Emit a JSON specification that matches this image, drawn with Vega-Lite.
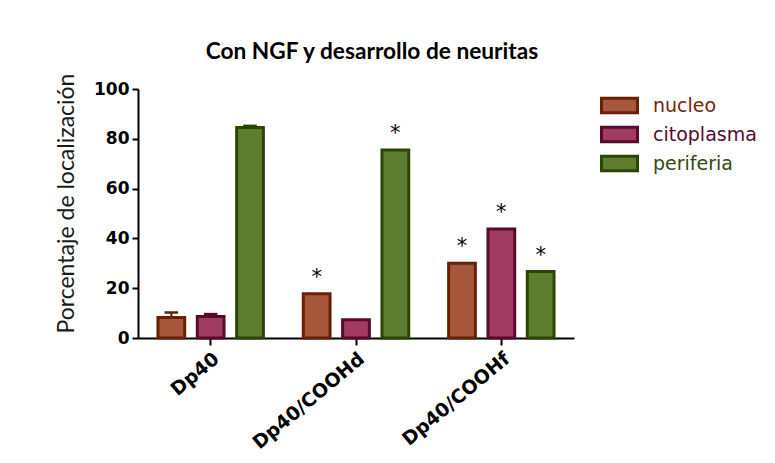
{
  "$schema": "https://vega.github.io/schema/vega-lite/v6.json",
  "width": 436,
  "height": 249,
  "autosize": {"type": "none"},
  "padding": {"left": 138, "top": 89, "right": 201, "bottom": 125},
  "background": "white",
  "title": {
    "text": "Con NGF y desarrollo de neuritas",
    "font": "Lato",
    "fontWeight": "bold",
    "fontSize": 22.7,
    "color": "#000000",
    "anchor": "middle",
    "baseline": "alphabetic",
    "dx": 16,
    "dy": 7,
    "offset": -2
  },
  "data": {
    "values": [
      {"grupo": "Dp40", "loc": "nucleo", "valor": 8.2, "sup": 10.2, "sig": ""},
      {"grupo": "Dp40", "loc": "citoplasma", "valor": 8.6, "sup": 9.6, "sig": ""},
      {"grupo": "Dp40", "loc": "periferia", "valor": 84.5, "sup": 85.2, "sig": ""},
      {"grupo": "Dp40/COOHd", "loc": "nucleo", "valor": 17.8, "sup": null, "sig": "*"},
      {"grupo": "Dp40/COOHd", "loc": "citoplasma", "valor": 7.3, "sup": null, "sig": ""},
      {"grupo": "Dp40/COOHd", "loc": "periferia", "valor": 75.5, "sup": null, "sig": "*"},
      {"grupo": "Dp40/COOHf", "loc": "nucleo", "valor": 30.0, "sup": null, "sig": "*"},
      {"grupo": "Dp40/COOHf", "loc": "citoplasma", "valor": 43.8, "sup": null, "sig": "*"},
      {"grupo": "Dp40/COOHf", "loc": "periferia", "valor": 26.7, "sup": null, "sig": "*"}
    ]
  },
  "encoding": {
    "x": {
      "field": "grupo",
      "type": "nominal",
      "sort": null,
      "title": null,
      "scale": {"paddingInner": 0.188, "paddingOuter": 0.094},
      "axis": {
        "labelAngle": -40,
        "labelFont": "DejaVu Sans",
        "labelFontWeight": "bold",
        "labelFontSize": 19,
        "labelColor": "#000000",
        "labelPadding": 4,
        "domainColor": "#000000",
        "domainWidth": 2,
        "tickColor": "#000000",
        "tickWidth": 2,
        "tickSize": 7
      }
    },
    "xOffset": {
      "field": "loc",
      "type": "nominal",
      "sort": ["nucleo", "citoplasma", "periferia"],
      "scale": {"paddingInner": 0.32, "paddingOuter": 0.16}
    }
  },
  "layer": [
    {
      "mark": {"type": "bar", "strokeWidth": 3, "strokeJoin": "miter"},
      "encoding": {
        "y": {
          "field": "valor",
          "type": "quantitative",
          "scale": {"domain": [0, 100], "nice": false},
          "axis": {
            "values": [0, 20, 40, 60, 80, 100],
            "grid": false,
            "labelFont": "DejaVu Sans",
            "labelFontWeight": "bold",
            "labelFontSize": 17,
            "labelColor": "#000000",
            "labelPadding": 3,
            "domainColor": "#000000",
            "domainWidth": 2,
            "tickColor": "#000000",
            "tickWidth": 2,
            "tickSize": 6,
            "title": "Porcentaje de localización",
            "titleFont": "Lato",
            "titleFontWeight": "normal",
            "titleFontSize": 23,
            "titleColor": "#1a1a1a",
            "titleAngle": 270,
            "titleAlign": "center",
            "titleBaseline": "alphabetic",
            "titleX": -65,
            "titleY": 114
          }
        },
        "fill": {
          "field": "loc",
          "type": "nominal",
          "sort": ["nucleo", "citoplasma", "periferia"],
          "scale": {"range": ["#A6573C", "#A23B60", "#5F7D2E"]},
          "legend": {
            "title": null,
            "orient": "none",
            "legendX": 468,
            "legendY": 3,
            "padding": 0,
            "symbolType": "M-1.5,-0.6H1.5V0.6H-1.5Z",
            "symbolSize": 576,
            "symbolStrokeWidth": 3,
            "labelFont": "DejaVu Sans",
            "labelFontSize": 19,
            "labelOffset": 20,
            "rowPadding": 2,
            "encode": {
              "symbols": {
                "update": {
                  "stroke": {"signal": "datum.value === 'nucleo' ? '#6B1F02' : datum.value === 'citoplasma' ? '#560A2C' : '#2B4602'"}
                }
              },
              "labels": {
                "update": {
                  "fill": {"signal": "datum.value === 'nucleo' ? '#74240A' : datum.value === 'citoplasma' ? '#560C30' : '#344A10'"}
                }
              }
            }
          }
        },
        "stroke": {
          "field": "loc",
          "type": "nominal",
          "sort": ["nucleo", "citoplasma", "periferia"],
          "scale": {"range": ["#6B1F02", "#560A2C", "#2B4602"]},
          "legend": null
        }
      }
    },
    {
      "transform": [{"filter": "isValid(datum.sup)"}],
      "mark": {"type": "rule", "strokeWidth": 2},
      "encoding": {
        "y": {"field": "valor", "type": "quantitative"},
        "y2": {"field": "sup"},
        "stroke": {"field": "loc", "type": "nominal", "sort": ["nucleo", "citoplasma", "periferia"], "legend": null}
      }
    },
    {
      "transform": [{"filter": "isValid(datum.sup)"}],
      "mark": {"type": "tick", "thickness": 1, "size": 12, "orient": "horizontal", "strokeWidth": 1.5, "fillOpacity": 0},
      "encoding": {
        "y": {"field": "sup", "type": "quantitative"},
        "stroke": {"field": "loc", "type": "nominal", "sort": ["nucleo", "citoplasma", "periferia"], "legend": null}
      }
    },
    {
      "mark": {"type": "text", "font": "DejaVu Sans", "fontSize": 21, "baseline": "alphabetic", "align": "center", "dy": -10, "color": "#000000"},
      "encoding": {
        "y": {"field": "valor", "type": "quantitative"},
        "text": {"field": "sig"}
      }
    }
  ],
  "config": {
    "view": {"stroke": null}
  }
}
